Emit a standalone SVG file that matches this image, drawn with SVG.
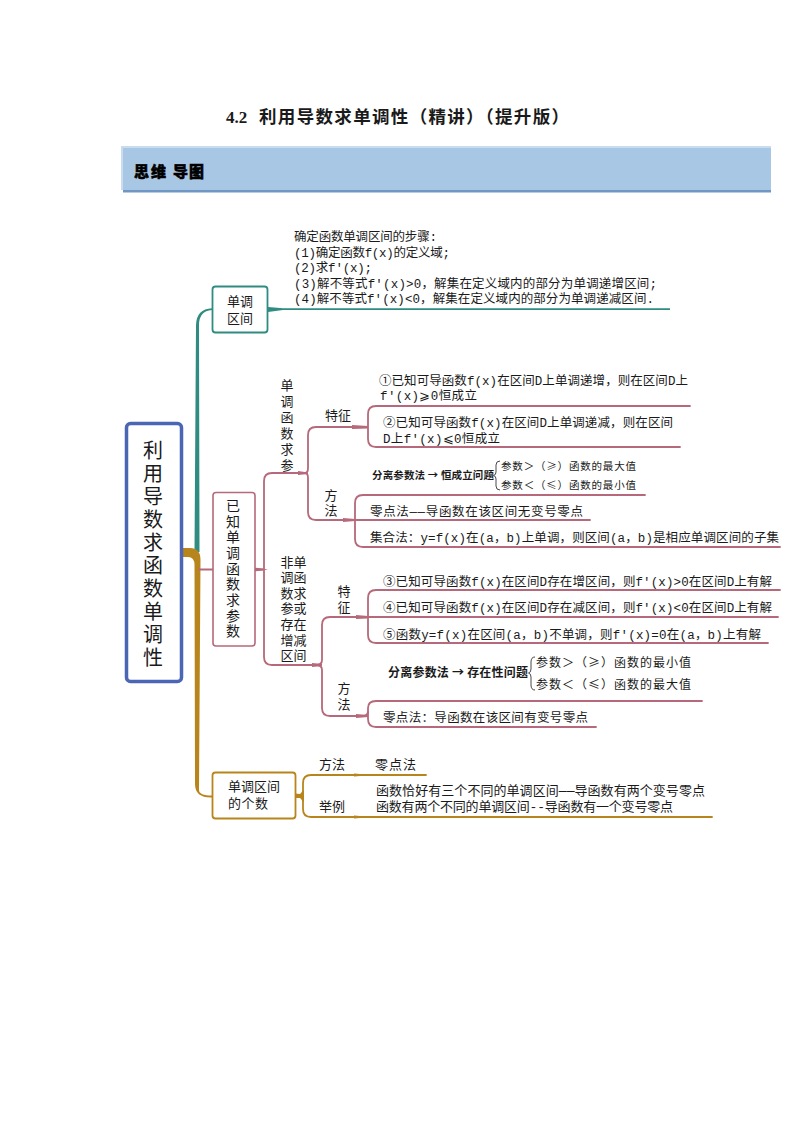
<svg xmlns="http://www.w3.org/2000/svg" width="794" height="1123" viewBox="0 0 794 1123">
<style>
text{font-family:"Liberation Mono","Noto Sans CJK SC",monospace;fill:#1a1a1a;font-size:12.5px}
.s{font-family:"Noto Sans CJK SC",sans-serif}
.m{font-size:13px}
.b{font-weight:700;font-size:10.5px;font-family:"Noto Sans CJK SC",sans-serif}
.n{fill:#fff;stroke-linejoin:round}
.c{fill:none;stroke-linecap:round;stroke-linejoin:round}
.r{stroke:#b5697a;stroke-width:1.8}
.g{stroke:#b8851c;stroke-width:1.8}
.t{stroke:#2f8c80;stroke-width:1.8}
.br{fill:none;stroke:#333;stroke-width:.9}
</style>
<rect width="794" height="1123" fill="#fff"/>
<g id="title"><text x="226" y="123" style="font-family:'Liberation Serif',serif;font-size:17px;font-weight:700">4.2</text><text x="259" y="123" class="s" style="font-size:17.5px;font-weight:700" textLength="310">利用导数求单调性（精讲）（提升版）</text></g>
<g id="banner">
<rect x="121" y="146" width="650" height="44" fill="#c9dcef"/>
<rect x="123" y="148" width="648" height="42" fill="#a8c7e5"/>
<rect x="123" y="190" width="648" height="2.500" fill="#7097c4"/>
<text class="s" x="134 151 173 189" y="177" style="font-size:15px;font-weight:900;fill:#000;stroke:#000;stroke-width:.5">思维导图</text>
</g>
<g id="connectors">
<path d="M194.500,552 L196,325 Q196.500,309 212,308.300 L212,310 Q199,311 199,325 L199.500,552 Z" fill="#2f8c80"/>
<path d="M183,548 L190,548 Q200.500,548 200.500,560 L199,790 Q199,795.500 212,795.500 L212,797.500 Q195,798 195,784 L194.500,565 Q194.500,557 188,557 L183,557 Z" fill="#b8851c"/>
<path d="M268,307 L283,308.300 L670,308.300 L670,310 L283,310 L268,312 Z" fill="#2f8c80"/>
<path class="c r" d="M199,569.500 H213"/>
<path class="c r" d="M255,569.500 H263"/>
<path class="c r" d="M300,473 H272 Q264,473 264,481 V657 Q264,665 272,665 H321"/>
<path class="c r" d="M305,473 Q308,473 308,468 V435 Q308,427 316,427 H360"/>
<path class="c r" d="M305,473 Q308,473 308,478 V512 Q308,520 316,520 H354"/>
<path class="c r" d="M690,406 H376 Q368,406 368,414 V439 Q368,447 376,447 H680"/>
<path class="c r" d="M645,495 H363 Q355,495 355,503 V539 Q355,547 363,547 H780"/>
<path class="c r" d="M345,520 H590"/>
<path class="c r" d="M316,665 Q322,665 322,660 V625 Q322,617 330,617 H360"/>
<path class="c r" d="M316,665 Q322,665 322,670 V708 Q322,716 330,716 H362"/>
<path class="c r" d="M780,590 H376 Q368,590 368,598 V635 Q368,643 376,643 H768"/>
<path class="c r" d="M358,617 H778"/>
<path class="c r" d="M702,701 H376 Q368,701 368,708 V719 Q368,727 376,727 H596"/>
<path class="c r" d="M358,716 H363 Q367,716 368,712"/>
<path d="M254,567.500 L262,568.500 L268,569.500 L262,570.500 L254,571.500 Z M298,471 L308,472.500 V474 L298,475 Z M352,425 L368,426 V428.500 L352,429 Z M343,518 L355,519 V521 L343,522 Z M312,663 L322,664 V666 L312,667 Z M356,615 L368,616 V618.500 L356,619 Z M356,714 L368,715 V717 L356,718 Z" fill="#b5697a"/>
<path class="c g" d="M295,796 H299 Q303,796 303,790 V783 Q303,775 311,775 H426"/>
<path class="c g" d="M299,796 Q303,796 303,802 V809 Q303,817 311,817 H712"/>
<path d="M295,793.500 L300,794 L304,790 V802 L300,798 L295,798 Z M354,773.500 L372,775 L354,776.500 Z M354,815.500 L372,817 L354,818.500 Z" fill="#b8851c"/>
</g>
<g id="node-root"><rect class="n" x="126.500" y="423.500" width="55" height="258" rx="4" stroke="#4a66b5" stroke-width="3.500"/><text x="143 143 143 143 143 143 143 143 143 143" y="458 481 504 527 550 573 596 619 642 665" style="font-size:20px" class="s">利用导数求函数单调性</text></g>
<g id="node-interval"><rect class="n" x="212.500" y="286.500" width="55" height="46" rx="3" stroke="#2f8c80" stroke-width="1.800"/><text x="227" y="306" style="font-size:13px" class="s">单调</text><text x="227" y="323" style="font-size:13px" class="s">区间</text></g>
<g id="node-param"><rect class="n" x="213" y="492.500" width="42" height="153.500" rx="3" stroke="#b5697a" stroke-width="1.600"/><text class="s" x="226 226 226 226 226 226 226 226 226" y="511 526.700 542.300 558 573.600 589.300 604.900 620.600 636.200" style="font-size:14px">已知单调函数求参数</text></g>
<g id="node-count"><rect class="n" x="212.500" y="772.500" width="83" height="46" rx="3" stroke="#b8851c" stroke-width="1.800"/><text class="s" x="228" y="791" style="font-size:13px" textLength="52">单调区间</text><text class="s" x="228" y="808" style="font-size:13px" textLength="40">的个数</text></g>
<g id="steps">
<text x="294" y="241" textLength="143">确定函数单调区间的步骤:</text>
<text x="294" y="256.500" textLength="156">(1)确定函数f(x)的定义域;</text>
<text x="294" y="272" textLength="78">(2)求f′(x);</text>
<text x="294" y="287.500" textLength="363">(3)解不等式f′(x)&gt;0，解集在定义域内的部分为单调递增区间;</text>
<text x="294" y="303" textLength="360">(4)解不等式f′(x)&lt;0，解集在定义域内的部分为单调递减区间.</text>
</g>
<g id="branch-mono">
<text class="s m" x="280.500 280.500 280.500 280.500 280.500 280.500" y="390 406 422 438 454 470">单调函数求参</text>
<text class="s m" x="325" y="420" textLength="26">特征</text>
<text class="s m" x="324.500 324.500" y="500 515">方法</text>
<text x="379" y="385" textLength="309">①已知可导函数f(x)在区间D上单调递增，则在区间D上</text>
<text x="380" y="400" textLength="97">f′(x)⩾0恒成立</text>
<text x="383" y="426.500" textLength="290">②已知可导函数f(x)在区间D上单调递减，则在区间</text>
<text x="383" y="442.500" textLength="117">D上f′(x)⩽0恒成立</text>
<text class="b" x="372" y="479" textLength="122">分离参数法 → 恒成立问题</text>
<path class="br" d="M500,461 Q496,461 496,465 V472 Q496,475 493.500,475.500 Q496,476 496,479 V486 Q496,490 500,490"/>
<text class="s" x="501" y="470" style="font-size:10.500px" textLength="135">参数＞（≥）函数的最大值</text>
<text class="s" x="501" y="489" style="font-size:10.500px" textLength="135">参数＜（≤）函数的最小值</text>
<text x="370" y="515.500" textLength="213">零点法——导函数在该区间无变号零点</text>
<text x="370" y="541.500" textLength="409">集合法：y=f(x)在(a，b)上单调，则区间(a，b)是相应单调区间的子集</text>
</g>
<g id="branch-nonmono">
<text class="s m" x="280.500 280.500 280.500 280.500 280.500 280.500 280.500" y="566.500 582 597.700 613.300 629 644.500 660">非调数参存增区</text>
<text class="s m" x="293.500 293.500 293.500 293.500 293.500 293.500 293.500" y="566.500 582 597.700 613.300 629 644.500 660">单函求或在减间</text>
<text class="s m" x="337.500 337.500" y="596 612">特征</text>
<text class="s m" x="337.500 337.500" y="693 709">方法</text>
<text x="383" y="585.500" textLength="389">③已知可导函数f(x)在区间D存在增区间，则f′(x)&gt;0在区间D上有解</text>
<text x="383" y="611.500" textLength="389">④已知可导函数f(x)在区间D存在减区间，则f′(x)&lt;0在区间D上有解</text>
<text x="383" y="638.500" textLength="378">⑤函数y=f(x)在区间(a，b)不单调，则f′(x)=0在(a，b)上有解</text>
<text class="b" x="388" y="676.500" style="font-size:12px" textLength="140">分离参数法 → 存在性问题</text>
<path class="br" d="M535,657 Q531,657 531,662 V669 Q531,672.500 528.500,673 Q531,673.500 531,677 V685 Q531,690 535,690"/>
<text class="s" x="536" y="666.500" style="font-size:12px" textLength="155">参数＞（≥）函数的最小值</text>
<text class="s" x="536" y="688.500" style="font-size:12px" textLength="155">参数＜（≤）函数的最大值</text>
<text x="383" y="721.500" textLength="205">零点法：导函数在该区间有变号零点</text>
</g>
<g id="branch-count">
<text class="s m" x="319" y="769" textLength="26">方法</text>
<text class="s m" x="375" y="769" textLength="41">零点法</text>
<text class="s m" x="319" y="811" textLength="26">举例</text>
<text x="376" y="795" textLength="329" class="m">函数恰好有三个不同的单调区间——导函数有两个变号零点</text>
<text x="376" y="811" textLength="297" class="m">函数有两个不同的单调区间--导函数有一个变号零点</text>
</g>
</svg>
